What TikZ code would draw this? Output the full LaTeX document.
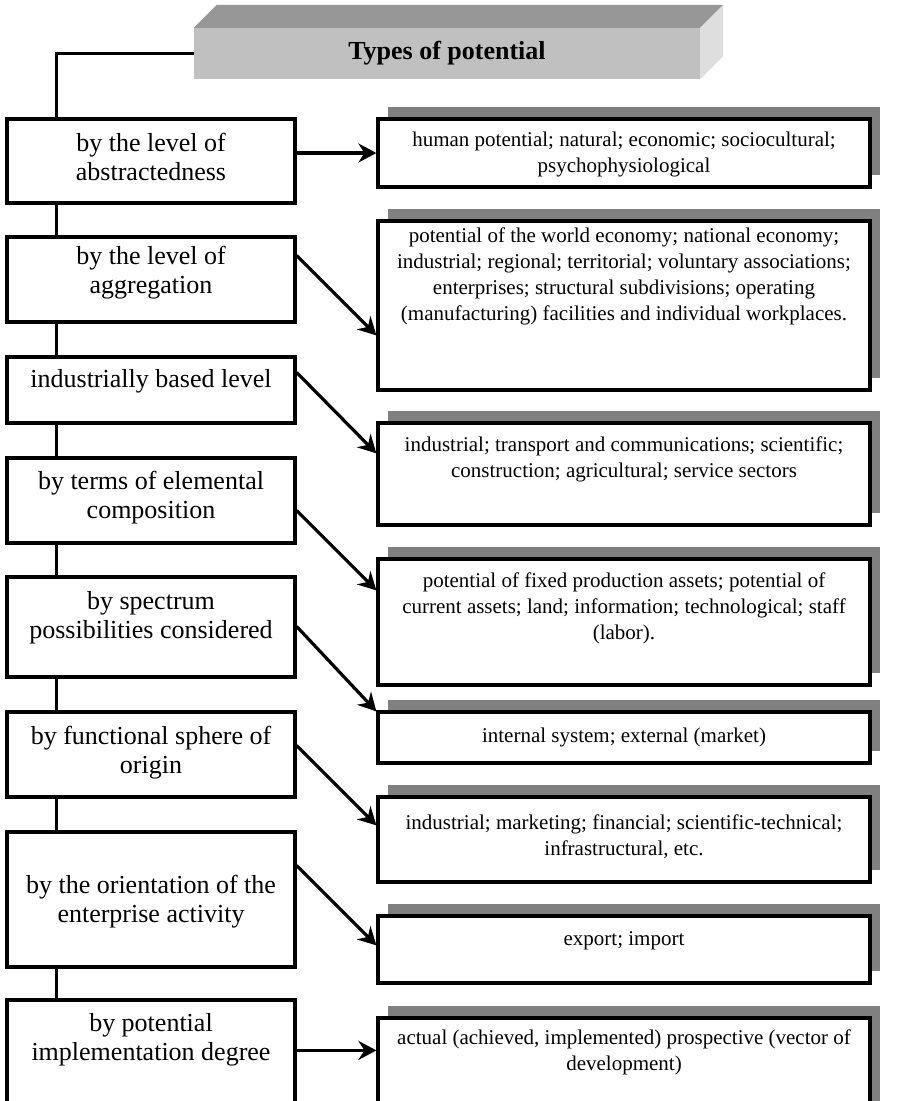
\documentclass[tikz,border=0pt]{standalone}
\usepackage{fontspec}
\setmainfont{Liberation Serif}
\usetikzlibrary{arrows.meta,shadows}
\definecolor{shadowgray}{HTML}{808080}
\definecolor{facetop}{HTML}{979797}
\definecolor{facefront}{HTML}{C0C0C0}
\definecolor{faceside}{HTML}{DEDEDE}

\begin{document}
\begin{tikzpicture}[x=1pt,y=-1pt,
  lbox/.style={draw, line width=3.2pt, fill=white, minimum width=288pt, inner sep=0pt},
  rbox/.style={draw, line width=3.2pt, fill=white, minimum width=492pt, inner sep=0pt,
    general shadow={fill=shadowgray, shadow xshift=10pt, shadow yshift=12pt}},
  % texts are placed by the baseline of their last line
  ltext/.style={anchor=base, align=center, inner sep=0pt, font=\fontsize{26}{29}\selectfont},
  rtext/.style={anchor=base, align=center, inner sep=0pt, font=\fontsize{21}{26}\selectfont},
  link/.style={line width=3.2pt},
  arr/.style={line width=3.2pt, -{Stealth[length=18pt,width=19pt,inset=6pt]}},
]
\path[use as bounding box, fill=white] (0,0) rectangle (918,1101);

% title block drawn as a shaded 3D bar
\node[fill=facefront, minimum width=506pt, minimum height=51pt, inner sep=0pt,
      font=\bfseries\fontsize{26}{30}\selectfont] (T) at (447,53.5) {Types of potential};
\fill[facetop] (T.north west) -- ++(23pt,23pt) -- ([shift={(23pt,23pt)}]T.north east) -- (T.north east) -- cycle;
\fill[faceside] (T.north east) -- ++(23pt,23pt) -- ([shift={(23pt,23pt)}]T.south east) -- (T.south east) -- cycle;

% classification criteria (left column)
\node[lbox, minimum height=84pt]  (L1) at (151,161)    {};
\node[lbox, minimum height=85pt]  (L2) at (151,279.5)  {};
\node[lbox, minimum height=66pt]  (L3) at (151,390)    {};
\node[lbox, minimum height=85pt]  (L4) at (151,500.5)  {};
\node[lbox, minimum height=100pt] (L5) at (151,627)    {};
\node[lbox, minimum height=85pt]  (L6) at (151,754.5)  {};
\node[lbox, minimum height=135pt] (L7) at (151,899.5)  {};
\node[lbox, minimum height=115pt] (L8) at (151,1057.5) {};

\node[ltext] (l1) at (151,180)  {by the level of\\abstractedness};
\node[ltext] (l2) at (151,293)  {by the level of\\aggregation};
\node[ltext] (l3) at (151,387)  {industrially based level};
\node[ltext] (l4) at (151,518)  {by terms of elemental\\composition};
\node[ltext] (l5) at (151,638)  {by spectrum\\possibilities considered};
\node[ltext] (l6) at (151,773)  {by functional sphere of\\origin};
\node[ltext] (l7) at (151,922)  {by the orientation of the\\enterprise activity};
\node[ltext] (l8) at (151,1060) {by potential\\implementation degree};

% types (right column)
\node[rbox, minimum height=68pt]  (R1) at (624,153)    {};
\node[rbox, minimum height=169pt] (R2) at (624,305.5)  {};
\node[rbox, minimum height=102pt] (R3) at (624,474)    {};
\node[rbox, minimum height=126pt] (R4) at (624,622)    {};
\node[rbox, minimum height=51pt]  (R5) at (624,737.5)  {};
\node[rbox, minimum height=85pt]  (R6) at (624,839.5)  {};
\node[rbox, minimum height=67pt]  (R7) at (624,949.5)  {};
\node[rbox, minimum height=97pt]  (R8) at (624,1066.5) {};

\node[rtext] (r1) at (624,172)  {human potential; natural; economic; sociocultural;\\psychophysiological};
\node[rtext] (r2) at (624,320)  {potential of the world economy; national economy;\\industrial; regional; territorial; voluntary associations;\\enterprises; structural subdivisions; operating\\(manufacturing) facilities and individual workplaces.};
\node[rtext] (r3) at (624,477)  {industrial; transport and communications; scientific;\\construction; agricultural; service sectors};
\node[rtext] (r4) at (624,639)  {potential of fixed production assets; potential of\\current assets; land; information; technological; staff\\(labor).};
\node[rtext] (r5) at (624,742)  {internal system; external (market)};
\node[rtext] (r6) at (624,855)  {industrial; marketing; financial; scientific-technical;\\infrastructural, etc.};
\node[rtext] (r7) at (624,945)  {export; import};
\node[rtext] (r8) at (624,1070) {actual (achieved, implemented) prospective (vector of\\development)};

% spine joining the title and the criteria
\draw[link] (T.west) -| ([xshift=51pt]L1.north west);
\foreach \a/\b in {L1/L2,L2/L3,L3/L4,L4/L5,L5/L6,L6/L7,L7/L8}
  \draw[link] ([xshift=51pt]\a.south west) -- ([xshift=51pt]\b.north west);

% arrows from each criterion to its types
\draw[arr] (L1.east |- R1.west) -- (R1.west);
\draw[arr] ([yshift=-20pt]L2.north east) -- ([yshift=-116pt]R2.north west);
\draw[arr] ([yshift=-17pt]L3.north east) -- ([yshift=-32pt]R3.north west);
\draw[arr] ([yshift=-54pt]L4.north east) -- ([yshift=-33pt]R4.north west);
\draw[arr] ([yshift=-51pt]L5.north east) -- ([yshift=-1pt]R5.north west);
\draw[arr] ([yshift=-35pt]L6.north east) -- ([yshift=-30pt]R6.north west);
\draw[arr] ([yshift=-35pt]L7.north east) -- ([yshift=-31pt]R7.north west);
\draw[arr] ([yshift=-52pt]L8.north east) -- ([yshift=-34pt]R8.north west);
\end{tikzpicture}
\end{document}
